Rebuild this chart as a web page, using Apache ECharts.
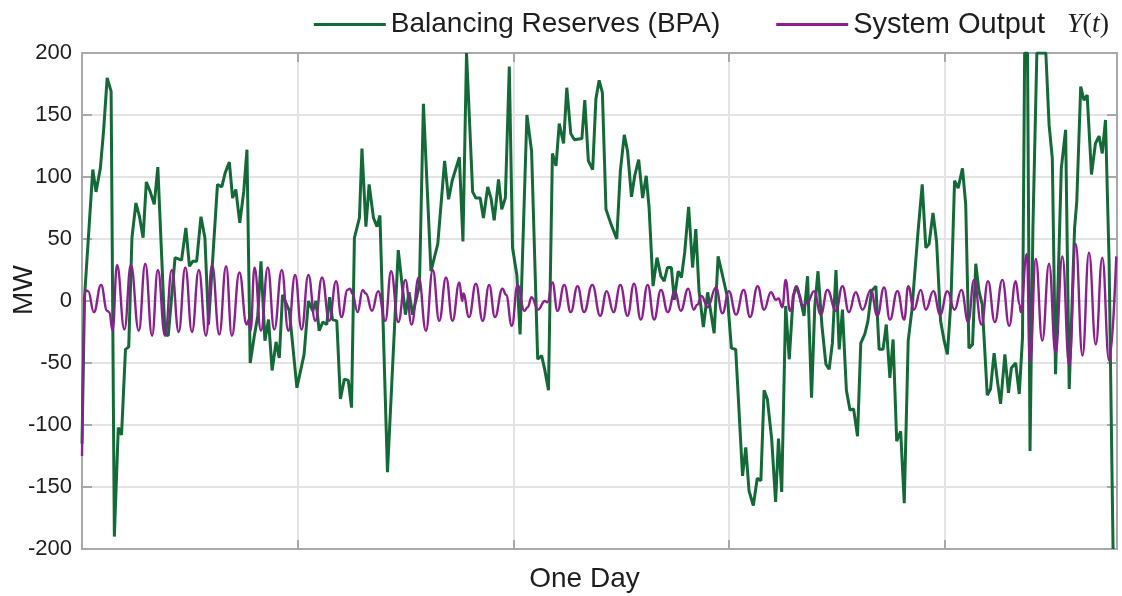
<!DOCTYPE html>
<html>
<head>
<meta charset="utf-8">
<title>Balancing Reserves vs System Output</title>
<script src="https://cdn.jsdelivr.net/npm/echarts/dist/echarts.min.js"></script>
<style>
  html, body { margin: 0; padding: 0; background: #ffffff; }
  #chart { width: 1122px; height: 596px; }
</style>
</head>
<body>
<div id="chart"></div>
<script>
// Time axis: one day sampled in 5-minute steps (0 .. 288)
const DAY_STEPS = 288;
const GRID_STEP = 60;

// Balancing reserves (BPA), MW
const reservesT = [
  0, 0.7, 3.0, 3.9, 5.1, 6.0, 7.0, 8.1, 9.0, 10.1, 11.0, 12.1, 13.0, 13.9, 15.0, 16.0, 17.0, 17.9, 19.0, 20.1,
  21.1, 23.1, 24.0, 25.9, 27.7, 28.9, 29.9, 30.8, 31.9, 33.1, 34.2, 35.2, 37.7, 38.9, 39.8, 41.0, 41.9, 42.8, 43.9, 45.0,
  45.9, 46.8, 47.9, 48.9, 49.8, 50.9, 51.9, 52.9, 54.0, 54.9, 55.8, 57.7, 59.8, 61.8, 63.0, 64.2, 65.1, 66.0, 67.0, 68.1,
  68.9, 69.7, 70.9, 71.9, 73.0, 74.1, 75.0, 75.8, 77.2, 77.9, 79.0, 79.9, 81.1, 82.1, 82.9, 85.0, 88.0, 90.0, 91.0, 92.0,
  93.9, 95.0, 97.1, 99.0, 100.9, 102.0, 103.0, 105.0, 106.0, 107.0, 108.7, 109.6, 110.8, 111.7, 112.9, 113.8, 114.7, 115.9, 116.8, 117.8,
  118.9, 119.8, 121.0, 121.9, 123.8, 125.1, 126.8, 127.9, 128.8, 129.8, 130.9, 131.9, 132.8, 134.0, 134.9, 136.0, 137.0, 139.1, 139.9, 140.9,
  142.1, 143.0, 143.9, 144.8, 145.8, 147.2, 148.8, 149.8, 150.9, 151.8, 152.9, 153.8, 154.9, 156.0, 157.0, 157.8, 158.9, 160.0, 161.1, 162.0,
  162.9, 164.0, 164.8, 165.9, 166.8, 167.7, 168.8, 169.9, 170.8, 171.7, 172.9, 174.1, 175.9, 177.0, 178.2, 179.6, 180.7, 181.9, 183.8, 184.7,
  185.6, 186.8, 187.9, 188.9, 189.8, 190.7, 191.9, 193.0, 193.8, 194.7, 195.8, 196.8, 197.9, 198.8, 199.8, 200.9, 201.9, 203.0, 203.9, 204.8,
  205.9, 207.0, 207.9, 208.8, 209.8, 210.7, 211.6, 212.7, 213.7, 214.7, 215.8, 216.7, 217.8, 218.7, 219.7, 220.9, 221.8, 222.9, 223.8, 224.8,
  225.7, 226.7, 227.8, 228.8, 229.9, 230.9, 232.7, 233.8, 234.8, 235.7, 236.8, 237.8, 238.9, 239.9, 240.8, 241.8, 242.8, 243.8, 245.0, 245.9,
  246.8, 247.8, 248.7, 249.6, 250.5, 251.9, 252.8, 253.8, 254.7, 255.6, 256.8, 257.8, 258.6, 259.8, 260.8, 261.7, 262.3, 263.1, 263.8, 264.6,
  265.7, 268.2, 269.1, 270.0, 270.9, 272.5, 273.7, 274.7, 276.2, 276.8, 277.9, 278.8, 279.7, 280.9, 282.0, 283.0, 283.9, 284.8, 285.8, 286.9
];
const reservesMW = [
  -115, 3, 106, 88, 107, 137, 180, 169, -190, -102, -108, -39, -37, 51, 79, 68, 51, 96, 88, 78,
  108, -27, -28, 35, 33, 59, 28, 32, 32, 68, 51, -19, 94, 92, 103, 112, 83, 90, 63, 88,
  122, -50, -29, -12, 32, -32, -15, -56, -33, -46, 5, -8, -70, -43, 0, -8, 0, -24, -17, -19,
  3, -15, -16, -79, -63, -64, -86, 51, 67, 123, 60, 94, 67, 60, 69, -138, 41, -11, 7, -11,
  13, 159, 24, 46, 113, 82, 97, 116, 48, 200, 88, 83, 83, 67, 92, 83, 65, 98, 74, 83,
  189, 43, 21, -27, 150, 121, -47, -44, -56, -72, 119, 109, 143, 127, 172, 135, 130, 131, 162, 113,
  106, 163, 178, 168, 74, 62, 50, 105, 134, 121, 84, 101, 114, 83, 101, 75, 12, 35, 20, 16,
  27, 27, 1, 24, 19, 39, 76, 27, 58, 8, -21, 7, -26, 36, 21, 3, -38, -39, -141, -118,
  -153, -165, -143, -145, -72, -79, -111, -162, -111, -154, -4, -47, 4, 12, 3, -12, 20, -78, -5, 24,
  -20, -51, -55, -34, 25, -39, -7, -72, -88, -87, -109, -34, -27, -16, 8, 12, -39, -39, -19, -62,
  -31, -113, -105, -163, -32, -8, 58, 94, 43, 46, 71, 48, -16, -32, -43, 0, 97, 91, 107, 78,
  -38, -35, 30, 8, -3, -76, -71, -42, -64, -83, -43, -74, -54, -50, -75, -30, 200, 200, -121, 59,
  200, 200, 142, 115, -59, 107, 138, -71, 59, 80, 173, 162, 166, 102, 127, 133, 119, 146, 32, -200
];

// System output Y(t), MW (turning points of the oscillation)
const outputT = [
  0, 0.85, 1.7, 3.3, 5.3, 7.0, 7.6, 8.5, 9.75, 11.8, 13.6, 15.8, 17.6, 19.5, 21.1, 23.1, 25.0, 26.9, 28.75, 30.6,
  32.5, 34.5, 36.2, 38.2, 40.1, 41.7, 43.8, 45.8, 46.4, 46.9, 48.0, 49.8, 51.7, 53.5, 55.6, 57.4, 59.3, 61.1, 63.0, 64.9,
  66.8, 68.8, 70.7, 72.2, 73.9, 74.6, 75.2, 76.7, 78.1, 79.0, 80.7, 82.4, 84.4, 86.0, 88.0, 90.0, 91.7, 93.7, 95.7, 97.6,
  99.4, 101.3, 103.1, 105.0, 105.8, 106.1, 107.7, 109.6, 111.5, 113.3, 114.9, 117.0, 118.0, 119.6, 121.2, 123.1, 124.0, 125.1, 126.9, 128.8,
  129.5, 130.9, 132.3, 134.2, 136.0, 137.9, 139.7, 142.0, 144.2, 146.0, 147.9, 149.8, 151.8, 153.6, 155.5, 157.4, 159.2, 161.1, 163.0, 165.0,
  166.6, 168.7, 170.2, 171.2, 172.4, 174.1, 176.4, 178.2, 180.0, 182.0, 184.1, 185.9, 188.0, 189.8, 191.7, 193.1, 193.8, 194.9, 195.8, 197.0,
  198.8, 200.5, 201.9, 203.7, 205.6, 207.4, 209.8, 211.6, 213.4, 215.3, 217.2, 219.5, 221.3, 223.2, 224.8, 226.9, 228.8, 229.9, 231.5, 233.4,
  234.8, 236.9, 238.8, 240.8, 242.8, 244.7, 246.6, 248.2, 250.3, 252.1, 254.0, 256.1, 258.0, 259.8, 260.9, 261.2, 262.9, 263.8, 265.4, 267.2,
  269.1, 270.9, 272.8, 274.7, 276.5, 278.4, 280.2, 282.1, 283.9, 285.8, 287.8
];
const outputMW = [
  -125, 9, 8, -9, 13, -8, -9, -24, 29, -23, 29, -24, 30, -28, 25, -28, 25, -25, 27, -25,
  25, -28, 29, -27, 28, -28, 23, -19, -15, -24, 27, -24, 27, -23, 25, -24, 21, -23, 21, -16,
  19, -16, 16, -13, 9, 10, 6, -9, 9, 6, -8, 8, -16, 24, -17, 17, -19, 19, -24, 25,
  -16, 19, -16, 15, 0, 6, -13, 14, -16, 13, -13, 10, 5, -20, 13, -8, -5, 3, -7, 0,
  -1, 15, -8, 13, -9, 12, -9, 13, -12, 8, -9, 13, -12, 14, -15, 13, -15, 9, -9, 8,
  -8, 10, -7, -3, 4, -5, 11, -10, 8, -11, 9, -13, 12, -7, 7, 1, 2, -5, 17, -8,
  12, -4, -1, 8, -11, 9, -8, 12, -9, 7, -7, 9, -12, 11, -15, 8, -15, 12, -7, 9,
  -7, 8, -11, 8, -7, 9, -17, 17, -19, 16, -17, 17, -20, 16, -3, -9, 38, -50, 34, -32,
  30, -42, 36, -52, 46, -44, 39, -35, 35, -48, 36
];

const SERIES_RESERVES = 'Balancing Reserves (BPA)';
const SERIES_OUTPUT = 'System Output Y(t)';

const GREEN = '#146a37';
const PURPLE = '#8c1f8f';
const FRAME = '#a9a9ab';
const GRIDLINE = '#e4e4e4';
const TEXT = '#1e1e1e';
const SANS = '"Liberation Sans", Arial, Helvetica, sans-serif';
const SERIF = '"Liberation Serif", "DejaVu Serif", serif';

function pairs(xs, ys) {
  return xs.map((x, i) => [x, ys[i]]);
}

const chart = echarts.init(document.getElementById('chart'), null, { renderer: 'canvas' });

const baseX = {
  type: 'value',
  min: 0,
  max: DAY_STEPS,
  interval: GRID_STEP,
  axisLine: { show: true, onZero: false, lineStyle: { color: FRAME, width: 2 } },
  axisTick: { show: true, inside: true, length: 9, lineStyle: { color: FRAME, width: 2 } },
  axisLabel: { show: false }
};
const baseY = {
  type: 'value',
  min: -200,
  max: 200,
  interval: 50,
  axisLine: { show: true, onZero: false, lineStyle: { color: FRAME, width: 2 } },
  axisTick: { show: true, inside: true, length: 10, lineStyle: { color: FRAME, width: 2 } }
};

chart.setOption({
  animation: false,
  backgroundColor: '#ffffff',
  grid: { left: 82, right: 5, top: 53, bottom: 47, containLabel: false, outerBoundsMode: 'none' },
  legend: {
    right: 8,
    top: 5,
    itemWidth: 72,
    itemHeight: 3,
    itemGap: 56,
    icon: 'rect',
    data: [SERIES_RESERVES, SERIES_OUTPUT],
    formatter: function (name) {
      if (name === SERIES_OUTPUT) {
        return '{b|System Output}{m0|Y}{p|(}{m|t}{p|)}';
      }
      return '{a|' + name + '}';
    },
    textStyle: {
      color: TEXT,
      fontFamily: SANS,
      fontSize: 28,
      rich: {
        a: { color: TEXT, fontFamily: SANS, fontSize: 28 },
        b: { color: TEXT, fontFamily: SANS, fontSize: 29 },
        m0: { color: TEXT, fontFamily: SERIF, fontStyle: 'italic', fontSize: 28, padding: [0, 0, 0, 22] },
        m: { color: TEXT, fontFamily: SERIF, fontStyle: 'italic', fontSize: 28 },
        p: { color: TEXT, fontFamily: SERIF, fontSize: 28 }
      }
    }
  },
  xAxis: [
    Object.assign({}, baseX, {
      position: 'bottom',
      name: 'One Day',
      nameLocation: 'middle',
      nameGap: 16,
      nameMoveOverlap: false,
      nameTextStyle: { color: TEXT, fontFamily: SANS, fontSize: 28, padding: [0, 30, 0, 0] },
      splitLine: { show: true, lineStyle: { color: GRIDLINE, width: 2 } }
    }),
    Object.assign({}, baseX, {
      position: 'top',
      splitLine: { show: false }
    })
  ],
  yAxis: [
    Object.assign({}, baseY, {
      position: 'left',
      name: 'MW',
      nameLocation: 'middle',
      nameRotate: 90,
      nameGap: 44,
      nameMoveOverlap: false,
      nameTextStyle: { color: TEXT, fontFamily: SANS, fontSize: 28, padding: [0, 0, 0, 22] },
      axisLabel: { show: true, color: TEXT, fontFamily: SANS, fontSize: 22, margin: 10 },
      splitLine: { show: true, lineStyle: { color: GRIDLINE, width: 2 } }
    }),
    Object.assign({}, baseY, {
      position: 'right',
      axisLabel: { show: false },
      splitLine: { show: false }
    })
  ],
  series: [
    {
      name: SERIES_RESERVES,
      type: 'line',
      xAxisIndex: 0,
      yAxisIndex: 0,
      data: pairs(reservesT, reservesMW),
      showSymbol: false,
      symbol: 'none',
      clip: true,
      lineStyle: { color: GREEN, width: 3 },
      itemStyle: { color: GREEN },
      z: 3
    },
    {
      name: SERIES_OUTPUT,
      type: 'line',
      xAxisIndex: 0,
      yAxisIndex: 0,
      data: pairs(outputT, outputMW),
      showSymbol: false,
      symbol: 'none',
      smooth: 0.45,
      smoothMonotone: 'x',
      clip: true,
      lineStyle: { color: PURPLE, width: 2.4 },
      itemStyle: { color: PURPLE },
      z: 4
    }
  ]
});
</script>
</body>
</html>
